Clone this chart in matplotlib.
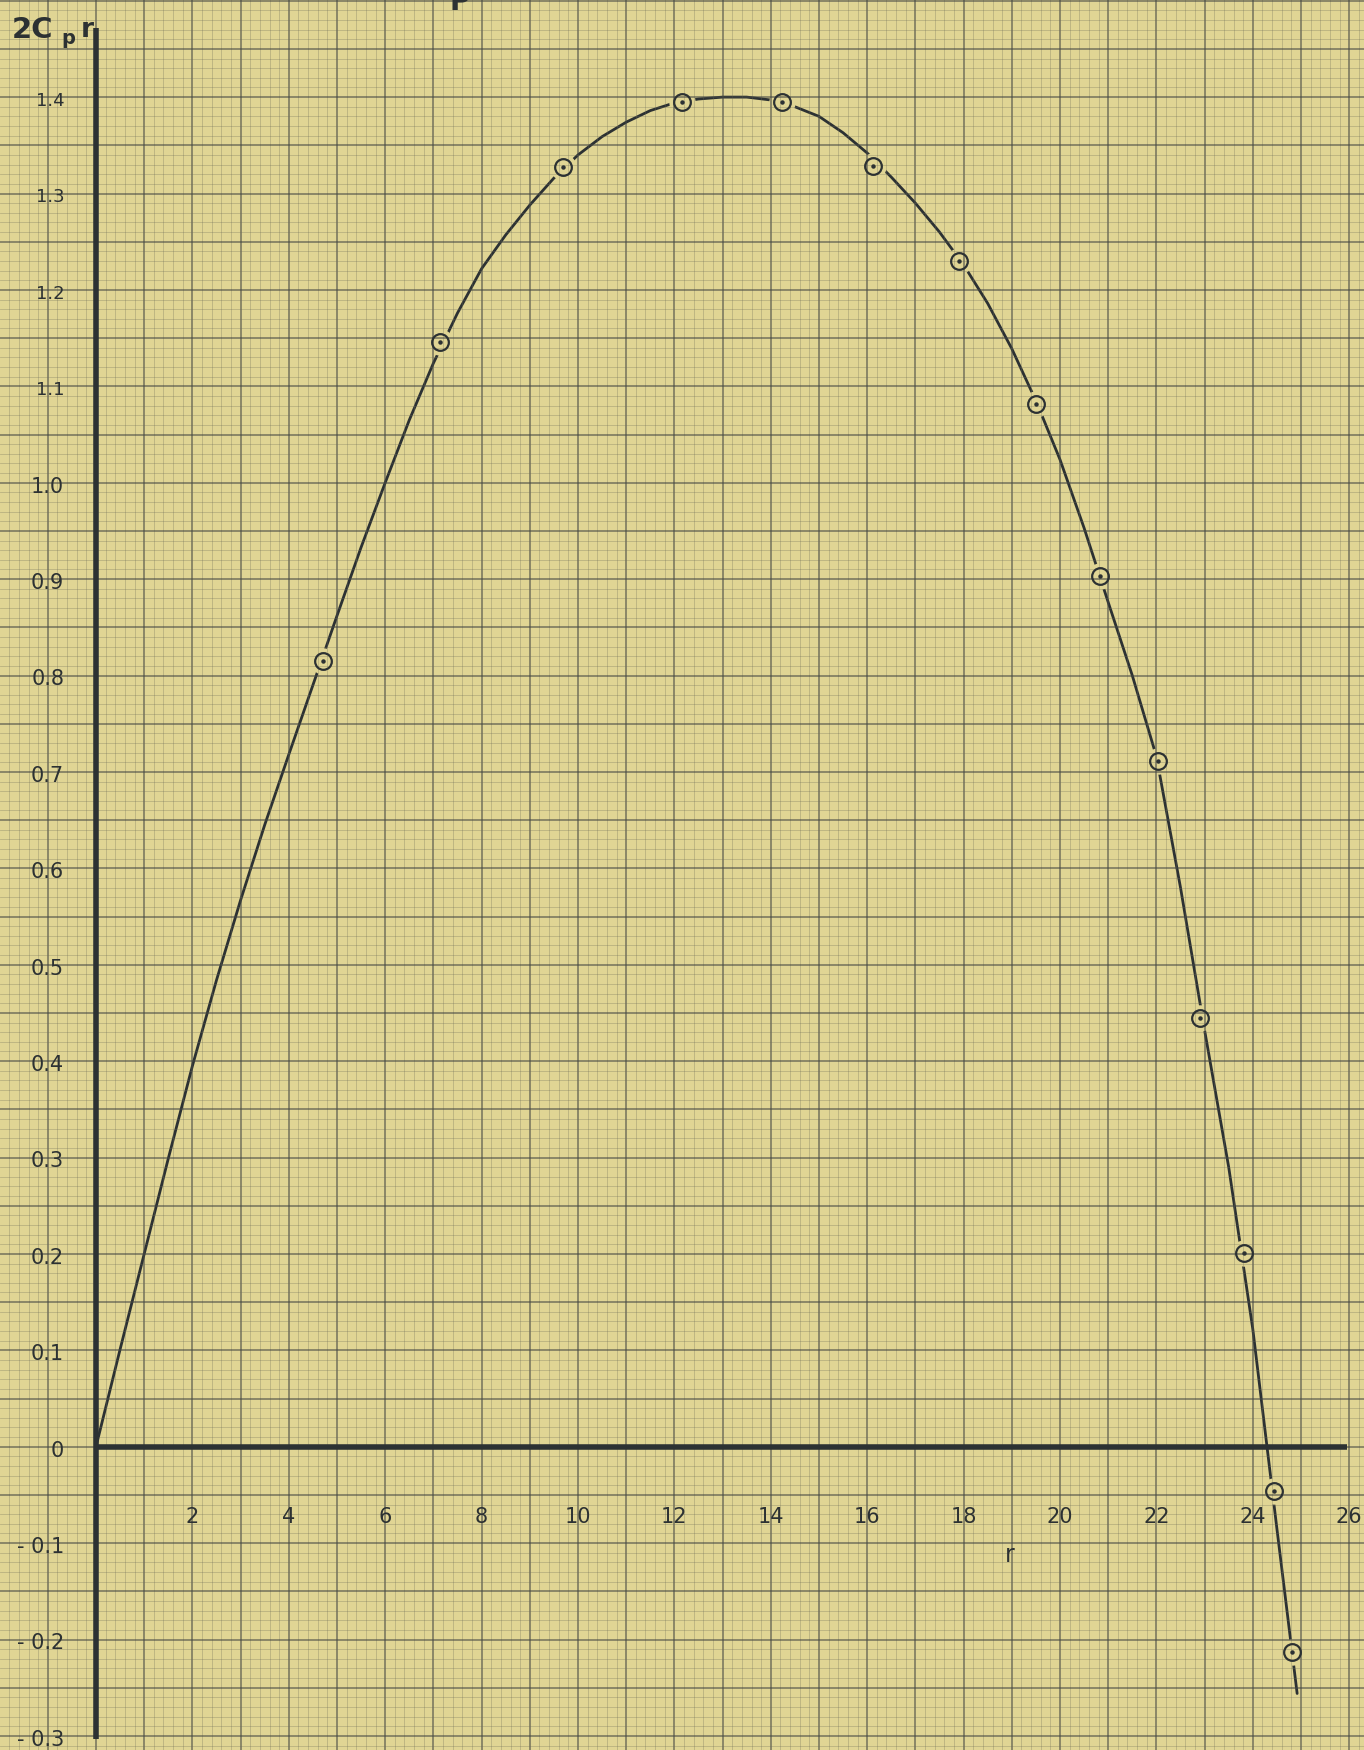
import numpy as np
import matplotlib
matplotlib.use("Agg")
import matplotlib.pyplot as plt
from matplotlib.ticker import MultipleLocator

# ---------------- data ----------------
point_r = [4.70, 7.14, 9.69, 12.15, 14.23, 16.12, 17.91, 19.50, 20.83, 22.04, 22.91, 23.82, 24.44, 24.81]
point_v = [0.815, 1.146, 1.327, 1.395, 1.395, 1.329, 1.230, 1.082, 0.903, 0.711, 0.445, 0.201, -0.046, -0.213]

curve_r = [0, 0.5, 1, 1.5, 2, 2.5, 3, 3.5, 4, 4.5, 5, 5.5, 6, 6.5, 7, 7.5, 8, 8.5, 9, 9.5,
           10, 10.5, 11, 11.5, 12, 12.5, 13, 13.5, 14, 14.5, 15, 15.5, 16, 16.5, 17, 17.5,
           18, 18.5, 19, 19.5, 20, 20.5, 21, 21.5, 22, 22.5, 23, 23.5, 24, 24.5, 24.92]
curve_v = [0, 0.101, 0.200, 0.299, 0.395, 0.484, 0.567, 0.645, 0.718, 0.790, 0.862, 0.933,
           1.000, 1.065, 1.124, 1.176, 1.222, 1.257, 1.288, 1.316, 1.340, 1.359, 1.374,
           1.386, 1.394, 1.398, 1.400, 1.400, 1.397, 1.390, 1.380, 1.363, 1.342, 1.317,
           1.290, 1.260, 1.226, 1.186, 1.139, 1.085, 1.024, 0.953, 0.876, 0.800, 0.716,
           0.580, 0.432, 0.290, 0.122, -0.085, -0.256]

y_tick_values = [1.4, 1.3, 1.2, 1.1, 1.0, 0.9, 0.8, 0.7, 0.6, 0.5, 0.4, 0.3, 0.2, 0.1, 0.0, -0.1, -0.2, -0.3]
y_tick_labels = ["1.4", "1.3", "1.2", "1.1", "1.0", "0.9", "0.8", "0.7", "0.6", "0.5", "0.4",
                 "0.3", "0.2", "0.1", "0", "- 0.1", "- 0.2", "- 0.3"]
x_tick_values = [2, 4, 6, 8, 10, 12, 14, 16, 18, 20, 22, 24, 26]
x_tick_labels = ["2", "4", "6", "8", "10", "12", "14", "16", "18", "20", "22", "24", "26"]

# ---------------- style ----------------
PAPER = "#E0D594"
INK = "#2c3133"
GRID_MAJOR = "#454843"
GRID_MINOR = "#6e6c58"

W, H = 1364, 1750
fig = plt.figure(figsize=(W / 100, H / 100), dpi=100)
fig.patch.set_facecolor(PAPER)
ax = fig.add_axes([0, 0, 1, 1])
ax.set_facecolor(PAPER)

# axes limits matching the sheet (origin at px 96, 1446.7; 48.2 px per r, 964 px per unit)
x0_px, y0_px, sx, sy = 96.0, 1446.7, 48.2, 964.0
ax.set_xlim(-x0_px / sx, (W - x0_px) / sx)
ax.set_ylim(-(H - y0_px) / sy, y0_px / sy)

for s in ax.spines.values():
    s.set_visible(False)

# graph paper grid
ax.xaxis.set_major_locator(MultipleLocator(1))
ax.xaxis.set_minor_locator(MultipleLocator(0.2))
ax.yaxis.set_major_locator(MultipleLocator(0.05))
ax.yaxis.set_minor_locator(MultipleLocator(0.01))
ax.tick_params(which="both", length=0, labelbottom=False, labelleft=False)
ax.grid(which="major", color=GRID_MAJOR, linewidth=1.1, alpha=0.7, zorder=3)
ax.grid(which="minor", color=GRID_MINOR, linewidth=0.6, alpha=0.35, zorder=3)
ax.set_axisbelow(False)

# heavy axes drawn on the sheet
ax.vlines(0, -0.303, 1.472, color=INK, linewidth=4.0, zorder=4)
ax.hlines(0, 0, 25.95, color=INK, linewidth=4.0, zorder=4)

# curve
ax.plot(curve_r, curve_v, color=INK, linewidth=2.0, solid_joinstyle="round",
        solid_capstyle="round", zorder=2)
# gap around markers
ax.plot(point_r, point_v, linestyle="none", marker="o", markersize=19,
        markerfacecolor=PAPER, markeredgecolor="none", zorder=2.5)
# circled points
ax.plot(point_r, point_v, linestyle="none", marker="o", markersize=12,
        markerfacecolor="none", markeredgecolor=INK, markeredgewidth=1.6, zorder=5)
ax.plot(point_r, point_v, linestyle="none", marker="o", markersize=2.2,
        markerfacecolor=INK, markeredgecolor=INK, zorder=5)

# y labels
for v, lab in zip(y_tick_values, y_tick_labels):
    fs = 13 if v > 1.05 else 15
    ax.text(-0.66, v - 0.004, lab, ha="right", va="center", fontsize=fs,
            color=INK, zorder=6, family="DejaVu Sans")

# x labels
for v, lab in zip(x_tick_values, x_tick_labels):
    ax.text(v, -0.073, lab, ha="center", va="center", fontsize=15,
            color=INK, zorder=6, family="DejaVu Sans")
ax.text(18.96, -0.112, "r", ha="center", va="center", fontsize=17, color=INK, zorder=6)

# axis title (top-left) in figure pixel coordinates
def fig_text(px, py, s, **kw):
    fig.text(px / W, 1 - py / H, s, color=INK, family="DejaVu Sans", **kw)

fig_text(12, 38, "2C", fontsize=21, fontweight="bold", ha="left", va="baseline")
fig_text(61, 44, "p", fontsize=14, fontweight="bold", ha="left", va="baseline")
fig_text(81, 37, "r", fontsize=19, fontweight="bold", ha="left", va="baseline")
# heading letter clipped by the top edge, as in the scanned sheet
fig_text(449, 10, "P", fontsize=20, fontweight="bold", ha="left", va="baseline")

fig.savefig("out.png", dpi=100, facecolor=PAPER)
